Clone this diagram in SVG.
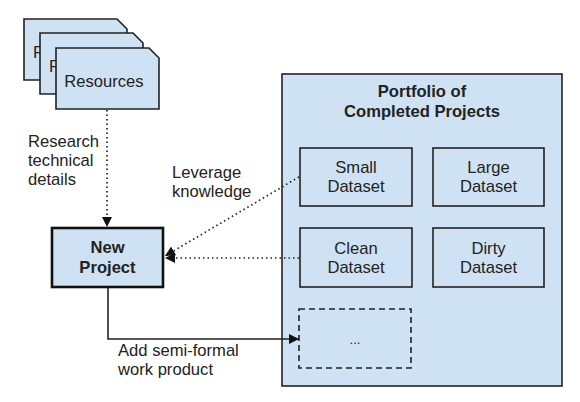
<svg xmlns="http://www.w3.org/2000/svg" width="580" height="402" viewBox="0 0 580 402">
<defs>
<style>
.box{fill:#cfe2f3;stroke:#222;stroke-width:1.6}
.t{font-family:"Liberation Sans",Arial,sans-serif;font-size:16.6px;fill:#222}
.b{font-weight:bold;text-anchor:middle}
.m{text-anchor:middle}
.dot{fill:none;stroke:#222;stroke-width:1.7;stroke-dasharray:1.5 3}
.sol{fill:none;stroke:#222;stroke-width:1.6}
</style>
<marker id="ah" viewBox="0 0 10 10" refX="10" refY="5" markerWidth="10" markerHeight="10" markerUnits="userSpaceOnUse" orient="auto">
<path d="M0,0 L10,5 L0,10 Z" fill="#111"/>
</marker>
</defs>
<rect width="580" height="402" fill="#fff"/>
<g id="resources">
<path class="box" d="M24,19 H117 L127,29 V80 H24 Z"/>
<text class="t" x="33" y="58">R</text>
<path class="box" d="M40,33 H133 L143,43 V94 H40 Z"/>
<text class="t" x="49" y="72">R</text>
<path class="box" d="M56,48 H149 L159,58 V109 H56 Z"/>
<text class="t m" x="104" y="87">Resources</text>
</g>
<g id="new-project">
<rect x="52" y="228" width="111" height="59" fill="#cfe2f3" stroke="#111" stroke-width="2.6"/>
<text class="t b" x="107.5" y="253">New</text>
<text class="t b" x="107.5" y="273">Project</text>
</g>
<g id="portfolio">
<rect class="box" x="282" y="74" width="280" height="312"/>
<text class="t b" x="422" y="97">Portfolio of</text>
<text class="t b" x="422" y="117">Completed Projects</text>
</g>
<g id="small-dataset">
<rect class="box" x="300" y="148" width="112" height="58"/>
<text class="t m" x="356" y="173">Small</text>
<text class="t m" x="356" y="192">Dataset</text>
</g>
<g id="large-dataset">
<rect class="box" x="433" y="148" width="111" height="58"/>
<text class="t m" x="488.5" y="173">Large</text>
<text class="t m" x="488.5" y="192">Dataset</text>
</g>
<g id="clean-dataset">
<rect class="box" x="300" y="228" width="112" height="59"/>
<text class="t m" x="356" y="254">Clean</text>
<text class="t m" x="356" y="273">Dataset</text>
</g>
<g id="dirty-dataset">
<rect class="box" x="433" y="228" width="111" height="59"/>
<text class="t m" x="488.5" y="254">Dirty</text>
<text class="t m" x="488.5" y="273">Dataset</text>
</g>
<g id="more">
<rect x="299" y="309" width="112" height="59" fill="none" stroke="#222" stroke-width="1.6" stroke-dasharray="6 4"/>
<text class="t m" x="355" y="344" style="font-size:13px">...</text>
</g>
<g id="connectors">
<path class="dot" d="M107,110 V227" marker-end="url(#ah)"/>
<path class="dot" d="M299,177 L165,256" marker-end="url(#ah)"/>
<path class="dot" d="M299,258 H165" marker-end="url(#ah)"/>
<path class="sol" d="M108,288 V339 H299" marker-end="url(#ah)"/>
<text class="t" x="28" y="147">Research</text>
<text class="t" x="28" y="166">technical</text>
<text class="t" x="28" y="185">details</text>
<text class="t" x="172" y="178">Leverage</text>
<text class="t" x="172" y="197">knowledge</text>
<text class="t" x="118" y="356">Add semi-formal</text>
<text class="t" x="118" y="375">work product</text>
</g>
</svg>
